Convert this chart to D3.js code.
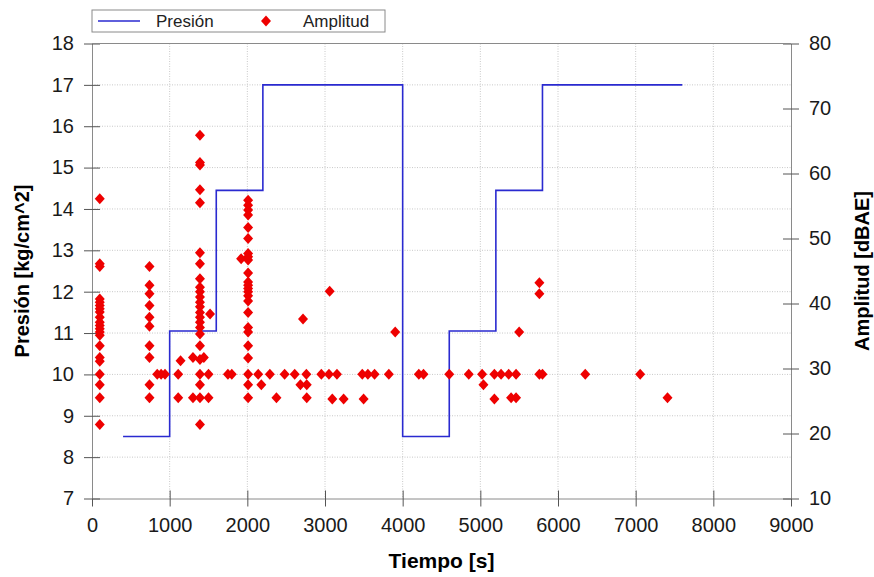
<!DOCTYPE html>
<html>
<head>
<meta charset="utf-8">
<script src="https://cdn.jsdelivr.net/npm/d3@7"></script>
<style>
  body { margin: 0; background: #fff; }
  svg text { font-family: "Liberation Sans", Arial, sans-serif; }
</style>
</head>
<body>
<svg id="chart" width="874" height="577"></svg>
<script>
// presion (step line)
const presionTiempo = [400, 1000, 1600, 2200, 4000, 4600, 5200, 5800, 7600];
const presionValor = [8.5, 11.05, 14.45, 17, 8.5, 11.05, 14.45, 17, 17];

// amplitud (scatter), tiempo [s] and dBAE
const ampTiempo = [
  100,100,100,100,100,100,100,100,100,100,100,100,100,100,100,100,100,100,100,100,100,
  740,740,740,740,740,740,740,740,740,740,
  840,890,940,
  1110,1110,1140,
  1390,1390,1390,1390,1390,1390,1390,1390,1390,1390,1390,1390,1390,1390,1390,1390,1390,1390,1390,1390,1390,1390,1390,1390,
  1300,1300,1440,1500,1500,1520,
  1750,1800,1920,
  2010,2010,2010,2010,2010,2010,2010,2010,2010,2010,2010,2010,2010,2010,2010,2010,2010,2010,2010,2010,2010,2010,2010,2010,
  2140,2180,2290,2375,2480,2610,2683,2717,2760,2765,2765,2953,3051,3060,3094,3154,3240,
  3480,3497,3552,3638,3822,3904,4208,4268,4600,4851,5023,5040,5181,5181,5267,5365,5396,
  5460,5460,5500,5760,5760,5760,5800,6351,7058,7410
];
const ampValor = [
  56.1,46.1,45.7,40.7,40.2,39.7,39.2,38.7,37.9,37.1,36.6,36.1,35.6,35.1,33.5,31.7,31.1,29.1,27.5,25.5,21.4,
  45.7,42.8,41.5,39.7,37.9,36.5,33.5,31.7,27.5,25.5,
  29.1,29.1,29.1,
  29.1,25.5,31.2,
  65.9,61.7,61.3,57.5,55.5,47.8,46.1,43.8,42.5,41.8,41.0,40.2,39.5,38.6,37.9,37.1,36.3,35.3,33.5,31.4,29.1,27.5,25.5,21.4,
  31.7,25.5,31.7,29.1,25.5,38.4,
  29.1,29.1,46.9,
  55.9,55.1,54.4,53.6,51.7,50.0,47.7,47.2,46.7,44.7,43.3,42.8,42.3,41.8,41.2,40.4,38.6,36.3,35.6,33.5,31.6,29.1,27.5,25.5,
  29.1,27.5,29.1,25.5,29.1,29.1,27.5,37.6,29.1,27.5,25.5,29.1,29.1,41.9,25.3,29.1,25.3,
  29.1,25.3,29.1,29.1,29.1,35.6,29.1,29.1,29.1,29.1,29.1,27.5,29.1,25.3,29.1,29.1,25.5,
  29.1,25.5,35.6,43.2,41.5,29.1,29.1,29.1,29.1,25.5
];

const xTicks = d3.range(0, 9001, 1000);
const yLeftTicks = d3.range(7, 18.1, 1);
const yRightTicks = d3.range(10, 80.1, 10);

const svg = d3.select("#chart");
const margin = { top: 43.5, right: 83, bottom: 78.5, left: 92 };
const W = 874 - margin.left - margin.right;
const H = 577 - margin.top - margin.bottom;

const x = d3.scaleLinear().domain([0, 9000]).range([0, W]);
const yL = d3.scaleLinear().domain([7, 18]).range([H, 0]);
const yR = d3.scaleLinear().domain([10, 80]).range([H, 0]);

const g = svg.append("g").attr("transform", `translate(${margin.left},${margin.top})`);

// grid
g.append("g").selectAll("line").data(xTicks.slice(1, -1)).enter().append("line")
  .attr("x1", d => x(d)).attr("x2", d => x(d)).attr("y1", 0).attr("y2", H)
  .attr("stroke", "#c8c8c8").attr("stroke-dasharray", "1,1.5");
g.append("g").selectAll("line").data(yLeftTicks.slice(1, -1)).enter().append("line")
  .attr("x1", 0).attr("x2", W).attr("y1", d => yL(d)).attr("y2", d => yL(d))
  .attr("stroke", "#c8c8c8").attr("stroke-dasharray", "1,1.5");

// axes
function styleAxis(sel) {
  sel.select(".domain").attr("stroke", "#8a8a8a");
  sel.selectAll(".tick line").attr("stroke", "#555");
  sel.selectAll(".tick text").attr("fill", "#1a1a1a").style("font-size", "20px");
}

const xAxis = g.append("g").attr("transform", `translate(0,${H})`)
  .call(d3.axisBottom(x).tickValues(xTicks).tickFormat(d3.format("d"))
    .tickSizeInner(8).tickSizeOuter(0).tickPadding(11));
xAxis.selectAll(".tick line").attr("y1", -8);
styleAxis(xAxis);

const yAxisL = g.append("g")
  .call(d3.axisLeft(yL).tickValues(yLeftTicks).tickFormat(d3.format("d"))
    .tickSizeInner(8).tickSizeOuter(0).tickPadding(10));
yAxisL.selectAll(".tick line").attr("x1", 8);
styleAxis(yAxisL);

const yAxisR = g.append("g").attr("transform", `translate(${W},0)`)
  .call(d3.axisRight(yR).tickValues(yRightTicks).tickSizeInner(8).tickSizeOuter(0).tickPadding(10));
yAxisR.selectAll(".tick line").attr("x1", -8);
styleAxis(yAxisR);

// top border
g.append("line").attr("x1", 0).attr("x2", W).attr("y1", 0).attr("y2", 0).attr("stroke", "#8a8a8a");

// pressure step line
const line = d3.line()
  .x((d, i) => x(presionTiempo[i]))
  .y(d => yL(d))
  .curve(d3.curveStepAfter);
g.append("path").datum(presionValor)
  .attr("d", line)
  .attr("fill", "none").attr("stroke", "#2a2ad0").attr("stroke-width", 1.6);

// amplitude diamonds
const diamond = "M0,-5.5L5,0L0,5.5L-5,0Z";
g.append("g").selectAll("path").data(ampValor).enter().append("path")
  .attr("d", diamond)
  .attr("transform", (d, i) => `translate(${x(ampTiempo[i])},${yR(d)})`)
  .attr("fill", "#ee0000");

// axis titles
svg.append("text").attr("x", margin.left + W / 2).attr("y", 568)
  .attr("text-anchor", "middle").style("font-size", "21px").style("font-weight", "bold")
  .text("Tiempo [s]");
svg.append("text").attr("transform", `translate(29,${margin.top + H / 2}) rotate(-90)`)
  .attr("text-anchor", "middle").style("font-size", "20px").style("font-weight", "bold")
  .text("Presión [kg/cm^2]");
svg.append("text").attr("transform", `translate(869,${margin.top + H / 2}) rotate(-90)`)
  .attr("text-anchor", "middle").style("font-size", "20px").style("font-weight", "bold")
  .text("Amplitud [dBAE]");

// legend
const leg = svg.append("g");
leg.append("rect").attr("x", 92).attr("y", 10).attr("width", 293).attr("height", 22)
  .attr("fill", "#fff").attr("stroke", "#8a8a8a");
leg.append("line").attr("x1", 98).attr("x2", 140).attr("y1", 21).attr("y2", 21)
  .attr("stroke", "#2a2ad0").attr("stroke-width", 1.6);
leg.append("text").attr("x", 156).attr("y", 27).style("font-size", "17px").attr("fill", "#222").text("Presión");
leg.append("path").attr("d", diamond).attr("transform", "translate(266,21)").attr("fill", "#ee0000");
leg.append("text").attr("x", 303).attr("y", 27).style("font-size", "17px").attr("fill", "#222").text("Amplitud");
</script>
</body>
</html>
